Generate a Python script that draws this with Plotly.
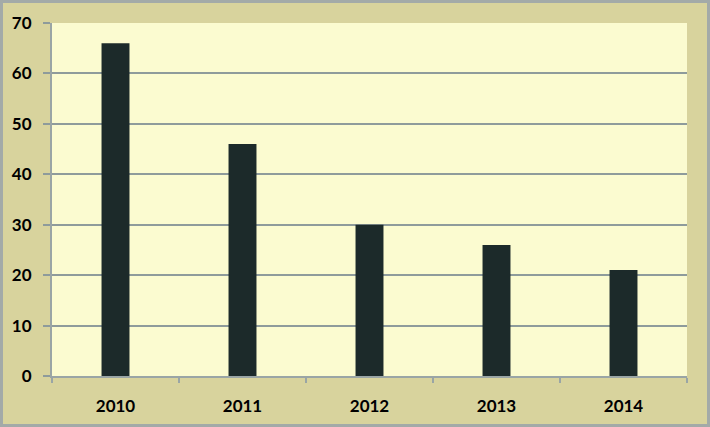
import plotly.graph_objects as go

years = ["2010", "2011", "2012", "2013", "2014"]
values = [66, 46, 30, 26, 21]
y_ticks = [0, 10, 20, 30, 40, 50, 60, 70]

W, H = 710, 427
ml, mr, mt, mb = 52, 23, 23, 51
pw, ph = W - ml - mr, H - mt - mb

fig = go.Figure(go.Bar(x=years, y=values, marker=dict(color="#1c2a2a", line=dict(width=0)), width=0.22))

fig.update_layout(
    width=W, height=H,
    margin=dict(l=ml, r=mr, t=mt, b=mb),
    paper_bgcolor="#d8d39d",
    plot_bgcolor="#fbfbd0",
    showlegend=False,
    bargap=0.78,
    font=dict(family="Lato, 'Open Sans', sans-serif", size=17, color="#000000"),
)
fig.update_yaxes(
    range=[0, 70], tickvals=y_ticks, ticktext=[f"<b>{v}</b>" for v in y_ticks],
    showgrid=True, gridcolor="#8e9b9b", gridwidth=2,
    showline=True, linecolor="#9aa5a5", linewidth=2,
    ticks="outside", ticklen=7, tickcolor="#8e9b9b", tickwidth=2,
    zeroline=False, ticklabelstandoff=8,
)
fig.update_xaxes(
    tickvals=years, ticktext=[f"<b>{y}</b>" for y in years],
    showline=True, linecolor="#9aa5a5", linewidth=2,
    ticks="outside", tickson="boundaries", ticklen=5, tickcolor="#9aa5a5", tickwidth=2,
    ticklabelstandoff=14,
)
fig.add_shape(
    type="rect", xref="paper", yref="paper",
    x0=(-ml + 1.5) / pw, x1=1 + (mr - 1.5) / pw,
    y0=(-mb + 1.5) / ph, y1=1 + (mt - 1.5) / ph,
    line=dict(color="#a3aaa8", width=3), fillcolor="rgba(0,0,0,0)", layer="above",
)
fig.write_html(
    "out.html",
    config={"displayModeBar": False},
    post_script="document.body.style.margin='0';document.body.style.overflow='hidden';",
)
